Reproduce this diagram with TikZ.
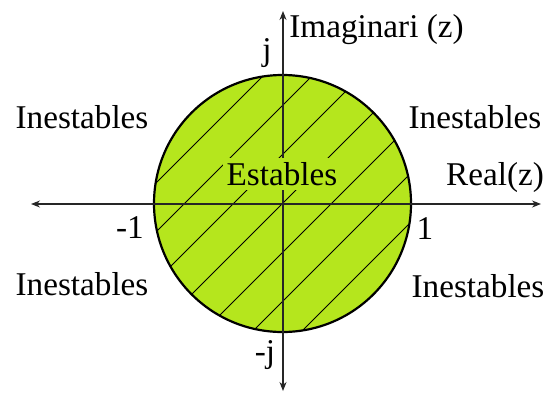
\documentclass[tikz,border=0pt]{standalone}
\usepackage{fontspec}
\setmainfont{Liberation Serif}
\usetikzlibrary{arrows.meta,calc}
\definecolor{stablecol}{HTML}{B5E61D}

\begin{document}
\begin{tikzpicture}[x=0.5pt, y=-0.5pt, >={Stealth[length=4.5pt, width=3.5pt]},
    lbl/.style={font=\fontsize{16.6}{20}\selectfont, inner sep=0pt},
    axisline/.style={<->, line width=0.55pt, black!85}]

    \useasboundingbox (0,0) rectangle (549,396);

    % ── Stable region (unit disc) ─────────────────────────────────────────────
    \coordinate (o) at (282.5,203.5);
    \fill[stablecol] (o) circle (128.5);
    \begin{scope}
        \clip (o) circle (128.5);
        \foreach \k in {-5,...,5}
            \draw[line width=0.5pt] ($(o)+(\k*24.5-140,\k*24.5+140)$) -- ++(280,-280);
    \end{scope}
    \draw[line width=1.1pt] (o) circle (128.5);

    % ── Axes ─────────────────────────────────────────────────────────────────
    \coordinate (xl) at (31,204);
    \coordinate (xr) at (541,204);
    \coordinate (yb) at (283,391);
    \coordinate (yt) at (283,11);
    \draw[axisline] (xl) -- (xr);
    \draw[axisline] (yb) -- (yt);

    % ── Labels ───────────────────────────────────────────────────────────────
    \node[lbl, fill=stablecol, inner sep=2pt] (est) at (282,174) {Estables};
    \node[lbl, anchor=west] (imag) at (289,30) {Imaginari (z)};
    \node[lbl] (real) at (495,178) {Real(z)};
    \node[lbl] (pj) at (267,53) {j};
    \node[lbl] (mj) at (265,355) {-j};
    \node[lbl] (m1) at (130,228) {-1};
    \node[lbl] (p1) at (425,229) {1};

    % ── Unstable quadrants ───────────────────────────────────────────────────
    \node[lbl] (ul) at (82,117) {Inestables};
    \node[lbl] (ur) at (475,117) {Inestables};
    \node[lbl] (ll) at (82,284) {Inestables};
    \node[lbl] (lr) at (478,286) {Inestables};

\end{tikzpicture}
\end{document}
